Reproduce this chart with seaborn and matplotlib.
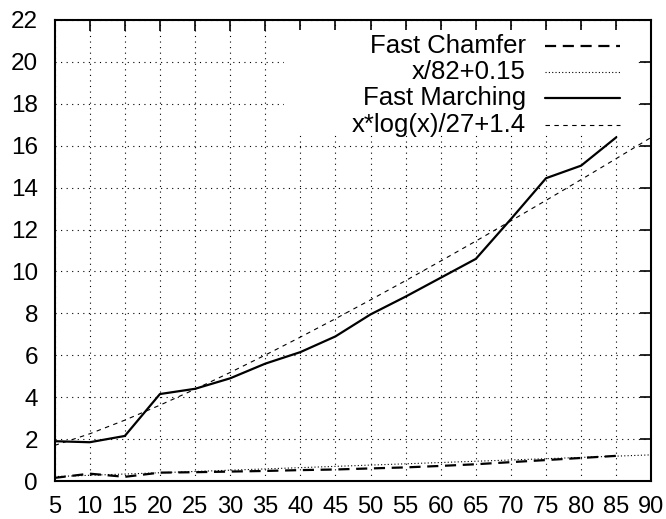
import matplotlib
matplotlib.use("Agg")
import matplotlib.pyplot as plt
from matplotlib.patches import Rectangle
from matplotlib.lines import Line2D
import seaborn as sns

# data
x_meas = [5, 10, 15, 20, 25, 30, 35, 40, 45, 50, 55, 60, 65, 70, 75, 80, 85]
fast_chamfer = [0.15, 0.35, 0.2, 0.4, 0.42, 0.45, 0.48, 0.52, 0.55, 0.6, 0.65, 0.72, 0.8, 0.9, 1.0, 1.1, 1.2]
fast_marching = [1.9, 1.85, 2.15, 4.15, 4.4, 4.9, 5.6, 6.15, 6.9, 7.95, 8.8, 9.7, 10.6, 12.5, 14.45, 15.05, 16.4]
x_fit = [5, 10, 15, 20, 25, 30, 35, 40, 45, 50, 55, 60, 65, 70, 75, 80, 85, 90]
chamfer_fit = [0.211, 0.272, 0.333, 0.394, 0.455, 0.516, 0.577, 0.638, 0.699, 0.760,
               0.821, 0.882, 0.943, 1.004, 1.065, 1.126, 1.187, 1.248]
marching_fit = [1.698, 2.253, 2.904, 3.619, 4.380, 5.179, 6.009, 6.865, 7.744, 8.644,
                9.563, 10.498, 11.449, 12.415, 13.393, 14.384, 15.386, 16.400]
x_ticks = list(range(5, 91, 5))
y_ticks = list(range(0, 23, 2))
labels = ['Fast Chamfer', 'x/82+0.15', 'Fast Marching', 'x*log(x)/27+1.4']

sns.set_theme(style="white")
plt.rcParams['font.family'] = ['Liberation Sans', 'DejaVu Sans']

fig = plt.figure(figsize=(6.66, 5.19), dpi=100)
ax = fig.add_axes([0.082, 0.0732, 0.896, 0.8883])

styles = [dict(lw=1.6, linestyle=(0, (5, 3))),
          dict(lw=0.8, linestyle=(0, (1, 2))),
          dict(lw=1.6, linestyle='-'),
          dict(lw=0.8, linestyle=(0, (4, 4)))]
series = [(x_meas, fast_chamfer), (x_fit, chamfer_fit),
          (x_meas, fast_marching), (x_fit, marching_fit)]
for (xs, ys), st in zip(series, styles):
    sns.lineplot(x=xs, y=ys, ax=ax, color='black', zorder=3, **st)

ax.set_xlim(5, 90)
ax.set_ylim(0, 22)
ax.set_xticks(x_ticks)
ax.set_yticks(y_ticks)
ax.tick_params(direction='in', length=8, width=1.2, top=True, right=True,
               labelsize=17.5, colors='black')
ax.tick_params(axis='x', pad=11, labelsize=17)
ax.tick_params(axis='y', pad=12)
ax.grid(True, color='black', linestyle=(0, (1, 4)), lw=0.8)
for s in ax.spines.values():
    s.set_color('black')
    s.set_linewidth(1.5)
    s.set_visible(True)

# key (gnuplot style: right-aligned text, sample to the right, opaque area)
ax.add_patch(Rectangle((0.385, 0.751), 0.59, 0.227, transform=ax.transAxes,
                       facecolor='white', edgecolor='none', zorder=2))
rows_y = [0.944, 0.888, 0.830, 0.773]
for lab, st, yy in zip(labels, styles, rows_y):
    ax.text(0.790, yy, lab, transform=ax.transAxes, ha='right', va='center',
            fontsize=18.5, color='black', zorder=4)
    ax.add_line(Line2D([0.822, 0.948], [yy, yy], transform=ax.transAxes,
                       color='black', zorder=4, **st))

fig.savefig('out.png', dpi=100)
